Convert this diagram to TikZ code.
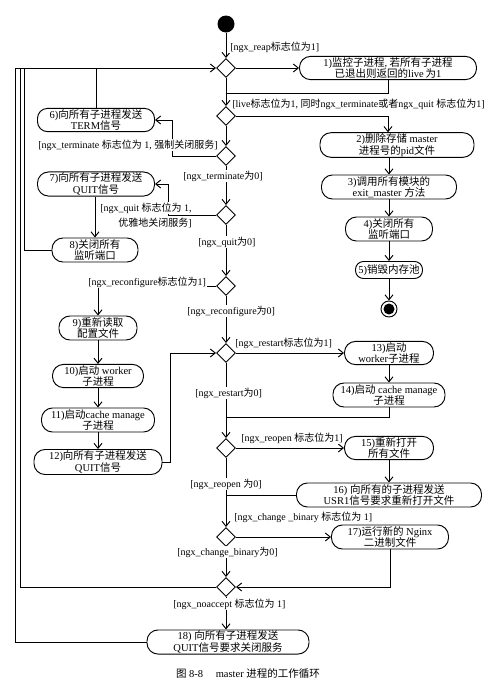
\documentclass[tikz,border=0pt]{standalone}
\usepackage{fontspec}
\setmainfont{Liberation Serif}
\newfontfamily\cjkf{Noto Sans CJK SC}
\usetikzlibrary{shapes.geometric,arrows.meta}
\newcommand\zhc[1]{{\cjkf #1}}
\begin{document}
\begin{tikzpicture}[x=1pt,y=-1pt,line width=0.95pt,
  box/.style={draw, rectangle, rounded corners=11pt, align=center, inner sep=1pt,
    font=\fontsize{10.5}{11.5}\selectfont},
  dia/.style={draw, diamond, minimum width=19pt, minimum height=19pt, inner sep=0pt},
  lbl/.style={fill=white, inner sep=0.8pt, anchor=west, font=\fontsize{10}{11}\selectfont},
  arr/.style={-{Straight Barb[length=5pt,width=8pt]}}
]
\useasboundingbox (0,0) rectangle (500,689);
% ---- nodes ----
\node[circle, fill=black, minimum size=17pt, inner sep=0pt] (start) at (226,24) {};
\node[dia] (D1) at (226,68) {};
\node[dia] (D2) at (226,116) {};
\node[dia] (D3) at (226,156) {};
\node[dia] (D4) at (226,215) {};
\node[dia] (D5) at (226,286) {};
\node[dia] (D6) at (226,353) {};
\node[dia] (D7) at (226,448) {};
\node[dia] (D8) at (226,537) {};
\node[dia] (D9) at (226,587) {};
\coordinate (J1) at (226,93);
\coordinate (J2) at (226,417);
\coordinate (J3) at (226,495);

\node[box, minimum width=177pt, minimum height=23pt] (B1) at (388,68)
  {1)\zhc{监控子进程}, \zhc{若所有子进程}\\\zhc{已退出则返回的}live\,\zhc{为}1};
\node[box, minimum width=154pt, minimum height=24pt] (B2) at (397,145)
  {2)\zhc{删除存储} master\\\zhc{进程号的}pid\zhc{文件}};
\node[box, minimum width=135pt, minimum height=24pt] (B3) at (389,187)
  {3)\zhc{调用所有模块的}\\exit\_master \zhc{方法}};
\node[box, minimum width=87pt, minimum height=24pt] (B4) at (389,229)
  {4)\zhc{关闭所有}\\\zhc{监听端口}};
\node[box, minimum width=67pt, minimum height=17pt, rounded corners=8pt] (B5) at (389,270)
  {5)\zhc{销毁内存池}};
\node[circle, draw, minimum size=16pt, inner sep=0pt] (end) at (389,309) {};
\node[circle, fill=black, minimum size=11pt, inner sep=0pt] (endin) at (end) {};

\node[box, minimum width=117pt, minimum height=21pt, rounded corners=10pt] (B6) at (96,120)
  {6)\zhc{向所有子进程发送}\\TERM\zhc{信号}};
\node[box, minimum width=117pt, minimum height=22pt] (B7) at (96,184)
  {7)\zhc{向所有子进程发送}\\QUIT\zhc{信号}};
\node[box, minimum width=86pt, minimum height=24pt] (B8) at (95,250)
  {8)\zhc{关闭所有}\\\zhc{监听端口}};
\node[box, minimum width=78pt, minimum height=24pt] (B9) at (98,328)
  {9)\zhc{重新读取}\\\zhc{配置文件}};
\node[box, minimum width=91pt, minimum height=23pt] (B10) at (98,376)
  {10)\zhc{启动} worker\\\zhc{子进程}};
\node[box, minimum width=113pt, minimum height=24pt] (B11) at (98,420)
  {11)\zhc{启动}cache manage\\\zhc{子进程}};
\node[box, minimum width=128pt, minimum height=25pt] (B12) at (98,462)
  {12)\zhc{向所有子进程发送}\\QUIT\zhc{信号}};

\node[box, minimum width=89pt, minimum height=23pt] (B13) at (389,353)
  {13)\zhc{启动}\\worker\zhc{子进程}};
\node[box, minimum width=112pt, minimum height=24pt] (B14) at (389,395)
  {14)\zhc{启动} cache manage\\\zhc{子进程}};
\node[box, minimum width=89pt, minimum height=23pt] (B15) at (389,448)
  {15)\zhc{重新打开}\\\zhc{所有文件}};
\node[box, minimum width=185pt, minimum height=24pt] (B16) at (389,495)
  {16) \zhc{向所有的子进程发送}\\USR1\zhc{信号要求重新打开文件}};
\node[box, minimum width=117pt, minimum height=24pt] (B17) at (390,537)
  {17)\zhc{运行新的} Nginx\\\zhc{二进制文件}};
\node[box, minimum width=162pt, minimum height=24pt] (B18) at (228,642)
  {18) \zhc{向所有子进程发送}\\QUIT\zhc{信号要求关闭服务}};

% ---- connectors ----
\draw[arr] (start) -- (D1.north);
\draw[arr] (D1.east) -- (B1.west);
\draw (B1.south) |- (J1);
\draw[arr] (D1.south) -- (D2.north);
\draw[arr] (D2.east) -| (B2.north -| B1.south);
\draw[arr] (B2.south -| B3.north) -- (B3.north);
\draw[arr] (B3.south) -- (B4.north);
\draw[arr] (B4.south) -- (B5.north);
\draw[arr] (B5.south) -- (end.north);
\draw[arr] (D2.south) -- (D3.north);
\draw[arr] (D3.west) -- (172,156) |- (B6.east);
\draw (B6.north) -- (B6.north |- D1.west);
\draw[arr] (D3.south) -- (D4.north);
\draw[arr] (D4.west) -- (168,215) |- (B7.east);
\draw[arr] (B7.south -| B8.north) -- (B8.north);
\draw (B8.west) -| (24,68);
\draw (D9.west) -| (20,68);
\draw[arr] (B18.west) -| (15,68) -- (D1.west);
\draw[arr] (D4.south) -- (D5.north);
\draw[arr] (D5.west) -| (B9.north);
\draw[arr] (B9.south) -- (B10.north);
\draw[arr] (B10.south) -- (B11.north);
\draw[arr] (B11.south) -- (B12.north);
\draw[arr] (B12.east) -- (170,462) |- (D6.west);
\draw[arr] (D5.south) -- (D6.north);
\draw[arr] (D6.east) -- (B13.west);
\draw[arr] (B13.south) -- (B14.north);
\draw (B14.south) |- (J2);
\draw[arr] (D6.south) -- (D7.north);
\draw[arr] (D7.east) -- (B15.west);
\draw[arr] (B15.south) -- (B16.north);
\draw (B16.west) -- (J3);
\draw[arr] (D7.south) -- (D8.north);
\draw[arr] (D8.east) -- (B17.west);
\draw[arr] (B17.south) |- (D9.east);
\draw[arr] (D8.south) -- (D9.north);
\draw[arr] (D9.south) -- (D9.south |- B18.north);

% ---- labels ----
\node[lbl] (l1) at (229,47) {[ngx\_reap\zhc{标志位为}1]};
\node[lbl] (l2) at (231,104) {[live\zhc{标志位为}1, \zhc{同时}ngx\_terminate\zhc{或者}ngx\_quit \zhc{标志位为}1]};
\node[lbl] (l3) at (37,145) {[ngx\_terminate \zhc{标志位为} 1, \zhc{强制关闭服务}]};
\node[lbl] (l4) at (182,176) {[ngx\_terminate\zhc{为}0]};
\node[lbl] (l5) at (99,208) {[ngx\_quit \zhc{标志位为} 1,};
\node[lbl] (l6) at (117,223) {\zhc{优雅地关闭服务}]};
\node[lbl] (l7) at (197,242) {[ngx\_quit\zhc{为}0]};
\node[lbl] (l8) at (87,282) {[ngx\_reconfigure\zhc{标志位为}1]};
\node[lbl] (l9) at (186,311) {[ngx\_reconfigure\zhc{为}0]};
\node[lbl] (l10) at (234,343) {[ngx\_restart\zhc{标志位为}1]};
\node[lbl] (l11) at (194,393) {[ngx\_restart\zhc{为}0]};
\node[lbl] (l12) at (240,438) {[ngx\_reopen \zhc{标志位为}1]};
\node[lbl] (l13) at (189,484) {[ngx\_reopen \zhc{为}0]};
\node[lbl] (l14) at (233,517) {[ngx\_change \_binary \zhc{标志位为} 1]};
\node[lbl] (l15) at (176,552) {[ngx\_change\_binary\zhc{为}0]};
\node[lbl] (l16) at (172,604) {[ngx\_noaccept \zhc{标志位为} 1]};
\node[font=\fontsize{10.5}{12}\selectfont] (cap) at (248,674)
  {\zhc{图} 8-8\hspace{1.2em}master \zhc{进程的工作循环}};
\end{tikzpicture}
\end{document}
